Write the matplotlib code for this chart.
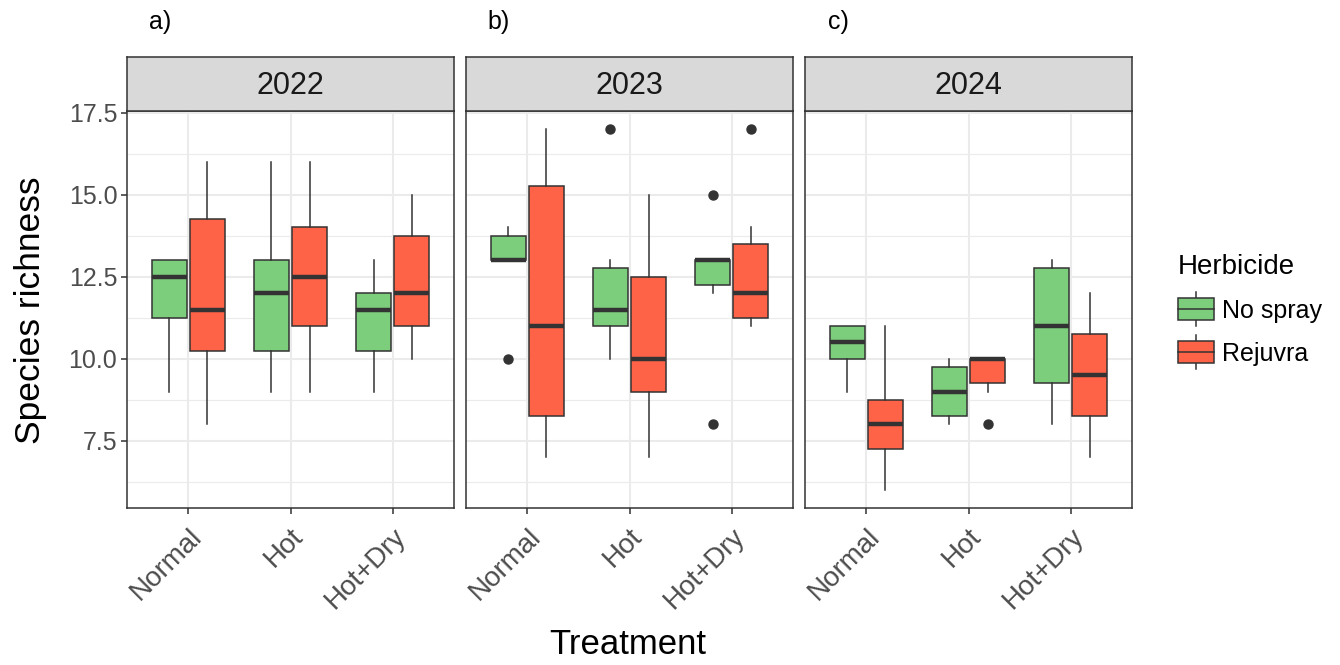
import matplotlib
matplotlib.use("Agg")
import matplotlib.pyplot as plt
from matplotlib.patches import Rectangle
from matplotlib.lines import Line2D
from matplotlib.legend_handler import HandlerBase

plt.rcParams['font.family'] = ['Liberation Sans', 'DejaVu Sans']

years = ["2022", "2023", "2024"]
panel_tags = ["a)", "b)", "c)"]
treatments = ["Normal", "Hot", "Hot+Dry"]
herbicides = ["No spray", "Rejuvra"]
colors = {"No spray": "#7CCD7C", "Rejuvra": "#FF6347"}

# per year: per treatment: [No spray, Rejuvra]
q1 = {
    "2022": [[11.25, 10.25], [10.25, 11.0], [10.25, 11.0]],
    "2023": [[13.0, 8.25], [11.0, 9.0], [12.25, 11.25]],
    "2024": [[10.0, 7.25], [8.25, 9.25], [9.25, 8.25]],
}
med = {
    "2022": [[12.5, 11.5], [12.0, 12.5], [11.5, 12.0]],
    "2023": [[13.0, 11.0], [11.5, 10.0], [13.0, 12.0]],
    "2024": [[10.5, 8.0], [9.0, 10.0], [11.0, 9.5]],
}
q3 = {
    "2022": [[13.0, 14.25], [13.0, 14.0], [12.0, 13.75]],
    "2023": [[13.75, 15.25], [12.75, 12.5], [13.0, 13.5]],
    "2024": [[11.0, 8.75], [9.75, 10.0], [12.75, 10.75]],
}
whislo = {
    "2022": [[9.0, 8.0], [9.0, 9.0], [9.0, 10.0]],
    "2023": [[13.0, 7.0], [10.0, 7.0], [12.0, 11.0]],
    "2024": [[9.0, 6.0], [8.0, 9.0], [8.0, 7.0]],
}
whishi = {
    "2022": [[13.0, 16.0], [16.0, 16.0], [13.0, 15.0]],
    "2023": [[14.0, 17.0], [13.0, 15.0], [13.0, 14.0]],
    "2024": [[11.0, 11.0], [10.0, 10.0], [13.0, 12.0]],
}
fliers = {
    "2022": [[[], []], [[], []], [[], []]],
    "2023": [[[10.0], []], [[17.0], []], [[15.0, 8.0], [17.0]]],
    "2024": [[[], []], [[], [8.0]], [[], []]],
}

W, H = 1340, 665
fig = plt.figure(figsize=(W / 100, H / 100), dpi=100)
fig.patch.set_facecolor("white")

panel_left = [127, 466, 805]
panel_w = 327
panel_top, panel_bot = 111, 508
strip_top = 57
edge = "#333333"
grid_c = "#EBEBEB"
tick_c = "#4D4D4D"

def px_axes(x0, y0, x1, y1):
    return fig.add_axes([x0 / W, 1 - y1 / H, (x1 - x0) / W, (y1 - y0) / H])

offsets = [-0.1875, 0.1875]
for p, yr in enumerate(years):
    x0 = panel_left[p]
    ax = px_axes(x0, panel_top, x0 + panel_w, panel_bot)
    ax.set_xlim(0.4, 3.6)
    ax.set_ylim(5.45, 17.55)
    ax.set_facecolor("white")
    major = [7.5, 10.0, 12.5, 15.0, 17.5]
    minor = [6.25, 8.75, 11.25, 13.75, 16.25]
    for v in minor:
        ax.axhline(v, color=grid_c, lw=0.8, zorder=0)
    for v in major:
        ax.axhline(v, color=grid_c, lw=1.5, zorder=0)
    for i in range(3):
        ax.axvline(i + 1, color=grid_c, lw=1.5, zorder=0)
    for i, tr in enumerate(treatments):
        for h, hb in enumerate(herbicides):
            st = dict(med=med[yr][i][h], q1=q1[yr][i][h], q3=q3[yr][i][h],
                      whislo=whislo[yr][i][h], whishi=whishi[yr][i][h],
                      fliers=fliers[yr][i][h])
            ax.bxp([st], positions=[i + 1 + offsets[h]], widths=0.34,
                   patch_artist=True, showcaps=False,
                   boxprops=dict(facecolor=colors[hb], edgecolor=edge, linewidth=1.1),
                   medianprops=dict(color=edge, linewidth=3.2, solid_capstyle='butt'),
                   whiskerprops=dict(color=edge, linewidth=1.1),
                   flierprops=dict(marker='o', markerfacecolor=edge, markeredgecolor=edge,
                                   markersize=6.5),
                   manage_ticks=False)
    for s in ax.spines.values():
        s.set_color(edge)
        s.set_linewidth(1.1)
    ax.set_xticks([1, 2, 3])
    ax.set_xticklabels(treatments, rotation=45, ha='right', va='top',
                       rotation_mode='anchor', fontsize=20, color=tick_c)
    ax.tick_params(axis='x', length=4, color=edge, width=1.1, pad=7)
    if p == 0:
        ax.set_yticks(major)
        ax.set_yticklabels(["%.1f" % v for v in major], fontsize=18, color=tick_c)
        ax.tick_params(axis='y', length=4, color=edge, width=1.1, pad=3)
    else:
        ax.set_yticks(major)
        ax.tick_params(axis='y', length=0, labelleft=False)

    sax = px_axes(x0, strip_top, x0 + panel_w, panel_top)
    sax.set_facecolor("#D9D9D9")
    sax.set_xticks([]); sax.set_yticks([])
    for s in sax.spines.values():
        s.set_color(edge)
        s.set_linewidth(1.1)
    sax.text(0.5, 0.47, yr, ha='center', va='center', fontsize=22, color="#1A1A1A",
             transform=sax.transAxes)

    fig.text((x0 + 33) / W, 1 - 22 / H, panel_tags[p], ha='center', va='center',
             fontsize=18, color='black')

fig.text(628 / W, 1 - 645 / H, "Treatment", ha='center', va='center', fontsize=25)
fig.text(31 / W, 1 - 310 / H, "Species richness", ha='center', va='center',
         fontsize=25.5, rotation=90)


class BoxKeyHandler(HandlerBase):
    def create_artists(self, legend, orig_handle, xdescent, ydescent, width, height,
                       fontsize, trans):
        fc = orig_handle.get_facecolor()
        cx = -xdescent + width / 2
        y0 = -ydescent
        bh = height * 1.0
        rect = Rectangle((-xdescent, y0), width, bh, facecolor=fc,
                         edgecolor=edge, linewidth=1.1, transform=trans)
        mid = Line2D([-xdescent, -xdescent + width], [y0 + bh / 2, y0 + bh / 2],
                     color=edge, linewidth=1.1, transform=trans)
        wtop = Line2D([cx, cx], [y0 + bh, y0 + bh + height * 0.3], color=edge,
                      linewidth=1.1, transform=trans)
        wbot = Line2D([cx, cx], [y0, y0 - height * 0.3], color=edge,
                      linewidth=1.1, transform=trans)
        return [wtop, wbot, rect, mid]


handles = [Rectangle((0, 0), 1, 1, facecolor=colors[hb]) for hb in herbicides]
leg = fig.legend(handles, herbicides, loc='upper left',
                 bbox_to_anchor=(1155 / W, 1 - 231 / H), frameon=False,
                 title="Herbicide", title_fontsize=20, fontsize=18,
                 handler_map={Rectangle: BoxKeyHandler()},
                 handlelength=1.45, handleheight=0.95, labelspacing=0.75,
                 handletextpad=0.35, alignment='left')

fig.savefig("out.png", dpi=100, facecolor="white")
